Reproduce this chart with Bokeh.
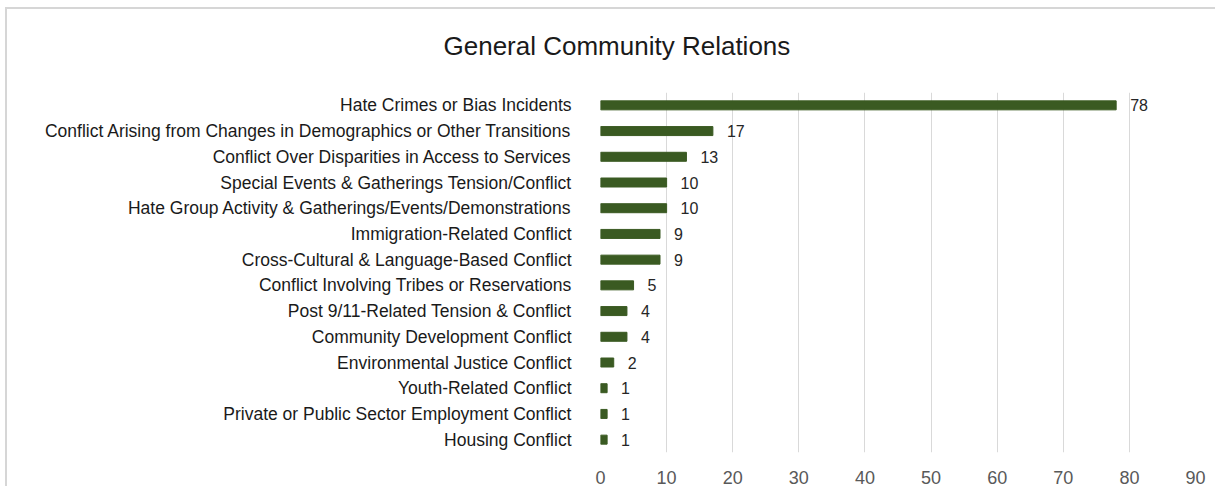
from bokeh.plotting import figure
from bokeh.models import ColumnDataSource, FactorRange, Range1d, FixedTicker, LabelSet, Title
from bokeh.core.properties import value
from bokeh.embed import file_html
from bokeh.resources import INLINE

title_text = "General Community Relations"
categories = [
    "Hate Crimes or Bias Incidents",
    "Conflict Arising from Changes in Demographics or Other Transitions",
    "Conflict Over Disparities in Access to Services",
    "Special Events & Gatherings Tension/Conflict",
    "Hate Group Activity & Gatherings/Events/Demonstrations",
    "Immigration-Related Conflict",
    "Cross-Cultural & Language-Based Conflict",
    "Conflict Involving Tribes or Reservations",
    "Post 9/11-Related Tension & Conflict",
    "Community Development Conflict",
    "Environmental Justice Conflict",
    "Youth-Related Conflict",
    "Private or Public Sector Employment Conflict",
    "Housing Conflict",
]
values = [78, 17, 13, 10, 10, 9, 9, 5, 4, 4, 2, 1, 1, 1]
x_ticks = [0, 10, 20, 30, 40, 50, 60, 70, 80, 90]

FONT = "Liberation Sans"

src = ColumnDataSource(dict(cat=categories, val=values, lab=[str(v) for v in values]))

p = figure(
    width=1214, height=485,
    y_range=FactorRange(factors=list(reversed(categories)), range_padding=0),
    x_range=Range1d(0, 90),
    output_backend="svg", toolbar_location=None,
    min_border_left=593, min_border_right=20, min_border_top=83, min_border_bottom=34,
)
p.frame_width = 595
p.frame_height = 360
p.margin = (7, 0, 0, 5)
p.styles = {"border-left": "2px solid #d6d6d6", "border-top": "2px solid #d6d6d6"}

# spacer between frame and title
spacer = Title(text=" ", text_font_size="1px", standoff=29)
p.add_layout(spacer, "above")
t = Title(text=title_text, align="left", offset=-157,
          text_font=FONT, text_font_size="26px", text_font_style="normal", text_color="#1a1a1a",
          standoff=0)
p.add_layout(t, "above")

p.hbar(y="cat", right="val", left=0, height=0.35, source=src, color="#3a5a22")

labels = LabelSet(x="val", y="cat", text="lab", source=src, x_offset=14, y_offset=0,
                  text_baseline="middle", text_font=value(FONT), text_font_size="16px",
                  text_color="#262626")
p.add_layout(labels)

p.outline_line_color = None
p.background_fill_color = "white"
p.border_fill_color = "white"

p.xaxis.ticker = FixedTicker(ticks=x_ticks)
p.xaxis.axis_line_color = None
p.xaxis.major_tick_line_color = None
p.xaxis.minor_tick_line_color = None
p.xaxis.major_label_text_font = FONT
p.xaxis.major_label_text_font_size = "18px"
p.xaxis.major_label_text_color = "#595959"
p.xaxis.major_label_standoff = 12

p.yaxis.axis_line_color = None
p.yaxis.major_tick_line_color = None
p.yaxis.minor_tick_line_color = None
p.yaxis.major_label_text_font = FONT
p.yaxis.major_label_text_font_size = "17.5px"
p.yaxis.major_label_text_color = "#1a1a1a"
p.yaxis.major_label_standoff = 23

p.xgrid.ticker = FixedTicker(ticks=x_ticks)
p.xgrid.grid_line_color = "#d9d9d9"
p.xgrid.grid_line_width = 1
p.ygrid.grid_line_color = None

open("out.html", "w").write(file_html(p, INLINE))
